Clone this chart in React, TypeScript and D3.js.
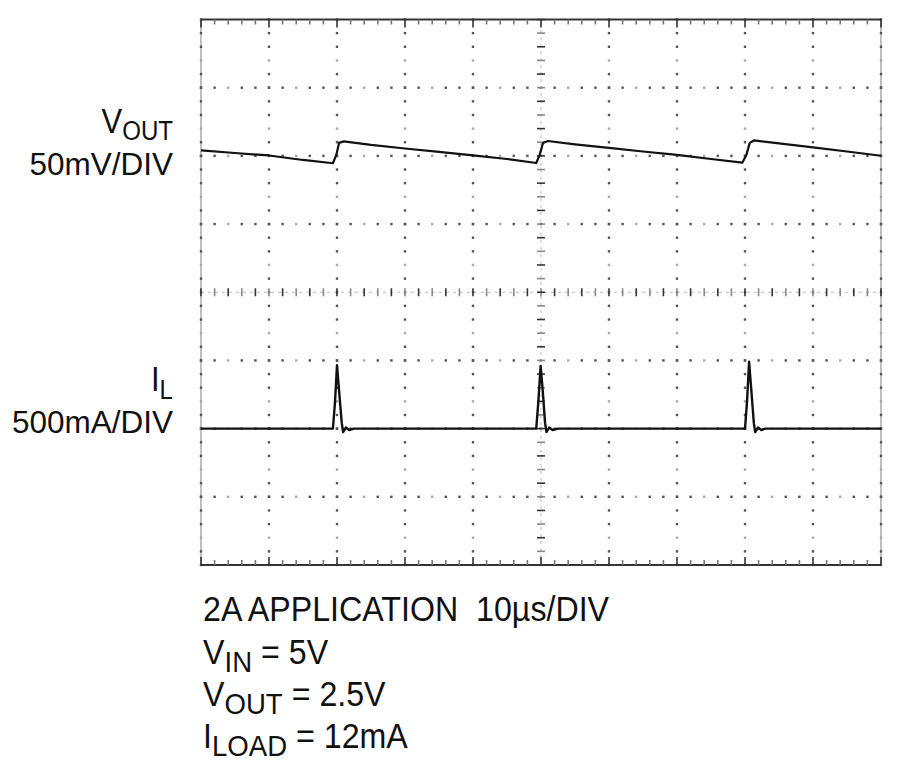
import * as d3 from 'd3';

// scope settings
const US_PER_DIV = 10;
const MV_PER_DIV = 50;
const MA_PER_DIV = 500;
const H_DIVS = 10;
const V_DIVS = 8;
const VOUT_OFFSET_DIV = 2;
const IL_OFFSET_DIV = -2;

// VOUT ripple (AC), time in µs, value in mV
const voutTime = [0, 5, 10, 15, 19.4, 19.9, 20.3, 21, 25, 30, 35, 40, 45, 49.3, 49.8, 50.3, 51, 55, 60, 65, 70, 75, 79.6, 80.2, 80.7, 81.3, 85, 90, 95, 100];
const voutMv = [4.0, 2.1, 0.3, -3.0, -5.4, 0.7, 9.5, 10.6, 8.0, 5.4, 2.9, 0.3, -2.3, -5.2, 0.7, 9.5, 10.9, 8.4, 5.8, 3.2, 0.7, -2.3, -5.0, 0.7, 9.5, 11.3, 9.1, 6.2, 3.2, 0.1];

// inductor current, time in µs, value in mA
const ilTime = [0, 19.4, 19.7, 20.0, 20.3, 20.7, 20.9, 21.3, 21.8, 22.5, 49.3, 49.6, 49.95, 50.25, 50.6, 50.8, 51.2, 51.7, 52.5, 80.0, 80.3, 80.6, 80.9, 81.3, 81.5, 81.9, 82.4, 83, 100];
const ilMa = [0, 0, 190, 465, 280, 40, -25, 8, -10, 0, 0, 190, 460, 280, 40, -25, 8, -10, 0, 0, 200, 490, 300, 40, -25, 8, -10, 0, 0];

const conditions = [
  { main: '2A APPLICATION  10µs/DIV', sym: '', sub: '' },
  { main: ' = 5V', sym: 'V', sub: 'IN' },
  { main: ' = 2.5V', sym: 'V', sub: 'OUT' },
  { main: ' = 12mA', sym: 'I', sub: 'LOAD' },
];

const FONT = '"Liberation Sans", Arial, Helvetica, sans-serif';

export default function App() {
  const x = d3.scaleLinear().domain([0, H_DIVS * US_PER_DIV]).range([201, 881]);
  const y = d3.scaleLinear().domain([-V_DIVS / 2, V_DIVS / 2]).range([565, 19.5]);

  const xMinor = d3.range(0, H_DIVS * 5 + 1).map(i => (i * US_PER_DIV) / 5);
  const yMinor = d3.range(0, V_DIVS * 5 + 1).map(j => -V_DIVS / 2 + j / 5);
  const xMajor = d3.range(0, H_DIVS + 1).map(i => i * US_PER_DIV);
  const yMajor = d3.range(0, V_DIVS + 1).map(j => -V_DIVS / 2 + j);
  const xc = x(H_DIVS * US_PER_DIV / 2);
  const yc = y(0);

  const vout = d3.line<number>()
    .x((_, i) => x(voutTime[i]))
    .y(d => y(VOUT_OFFSET_DIV + d / MV_PER_DIV));
  const il = d3.line<number>()
    .x((_, i) => x(ilTime[i]))
    .y(d => y(IL_OFFSET_DIV + d / MA_PER_DIV));

  const baselines = [621, 664, 706, 748];

  return (
    <div style={{ position: 'absolute', left: 0, top: 0 }}>
      <svg width={900} height={773} style={{ display: 'block', background: '#fff' }}>
        {/* dotted graticule, vertical */}
        {xMajor.filter(t => t !== H_DIVS * US_PER_DIV / 2).map(t => (
          <g key={'vx' + t}>
            {(t === 0 || t === H_DIVS * US_PER_DIV) && (
              <line x1={x(t)} x2={x(t)} y1={y(-4)} y2={y(4)} stroke="#aaa" strokeWidth={1.5} />
            )}
            {yMinor.map((d, j) => (
              <rect key={j} x={x(t) - 1.2} y={y(d) - 1.2} width={2.4} height={2.4}
                fill={j % 5 === 2 ? '#aaa' : '#555'} />
            ))}
          </g>
        ))}
        {/* dotted graticule, horizontal */}
        {yMajor.filter(d => d !== 0 && Math.abs(d) !== V_DIVS / 2).map(d => (
          <g key={'hy' + d}>
            {xMinor.map((t, i) => (
              <rect key={i} x={x(t) - 1.2} y={y(d) - 1.2} width={2.4} height={2.4}
                fill={i % 5 === 2 ? '#aaa' : '#555'} />
            ))}
          </g>
        ))}
        {/* centre axes with ticks */}
        <line x1={x(0)} x2={x(100)} y1={yc} y2={yc} stroke="#bbb" strokeWidth={1} strokeDasharray="3,4" />
        <line x1={xc} x2={xc} y1={y(-4)} y2={y(4)} stroke="#bbb" strokeWidth={1} strokeDasharray="3,4" />
        {xMinor.map((t, i) => (
          <line key={'cx' + i} x1={x(t)} x2={x(t)} y1={yc - 4} y2={yc + 4}
            stroke={i % 2 === 0 ? '#333' : '#888'} strokeWidth={1.6} />
        ))}
        {yMinor.map((d, j) => (
          <line key={'cy' + j} x1={xc - 4} x2={xc + 4} y1={y(d)} y2={y(d)}
            stroke={j % 2 === 0 ? '#333' : '#888'} strokeWidth={1.6} />
        ))}
        {/* top and bottom borders */}
        {[V_DIVS / 2, -V_DIVS / 2].map(d => {
          const dir = d > 0 ? 1 : -1;
          return (
            <g key={'b' + d}>
              <line x1={x(0)} x2={x(100)} y1={y(d)} y2={y(d)} stroke="#333" strokeWidth={2.2} />
              {xMinor.map((t, i) => (
                <line key={i} x1={x(t)} x2={x(t)} y1={y(d)} y2={y(d) + dir * (i % 5 === 0 ? 8 : 5)}
                  stroke={i % 5 === 0 ? '#333' : '#777'} strokeWidth={1.6} />
              ))}
            </g>
          );
        })}

        {/* traces */}
        <path d={vout(voutMv) || ''} fill="none" stroke="#111" strokeWidth={2.2} strokeLinejoin="round" />
        <path d={il(ilMa) || ''} fill="none" stroke="#111" strokeWidth={2.4} strokeLinejoin="round" />

        {/* channel labels */}
        <g fontFamily={FONT} fill="#111">
          <g transform="translate(173,133) scale(0.86,1)">
            <text x={0} y={0} textAnchor="end" fontSize={36}>
              V<tspan fontSize={28} dy={7}>OUT</tspan>
            </text>
          </g>
          <text x={173} y={175} textAnchor="end" fontSize={31.5}>50mV/DIV</text>
          <g transform="translate(173,391) scale(0.86,1)">
            <text x={0} y={0} textAnchor="end" fontSize={36}>
              I<tspan fontSize={28} dy={7.5}>L</tspan>
            </text>
          </g>
          <text x={173} y={433} textAnchor="end" fontSize={31.5}>500mA/DIV</text>
        </g>

        {/* test conditions */}
        <g fontFamily={FONT} fill="#111">
          {conditions.map((c, i) => (
            <g key={i} transform={`translate(203,${baselines[i]}) scale(0.92,1)`}>
              <text x={0} y={0} fontSize={35} style={{ whiteSpace: 'pre' }}>
                {c.sym}
                {c.sub && <tspan fontSize={30} dy={8}>{c.sub}</tspan>}
                <tspan dy={c.sub ? -8 : 0}>{c.main}</tspan>
              </text>
            </g>
          ))}
        </g>
      </svg>
    </div>
  );
}
